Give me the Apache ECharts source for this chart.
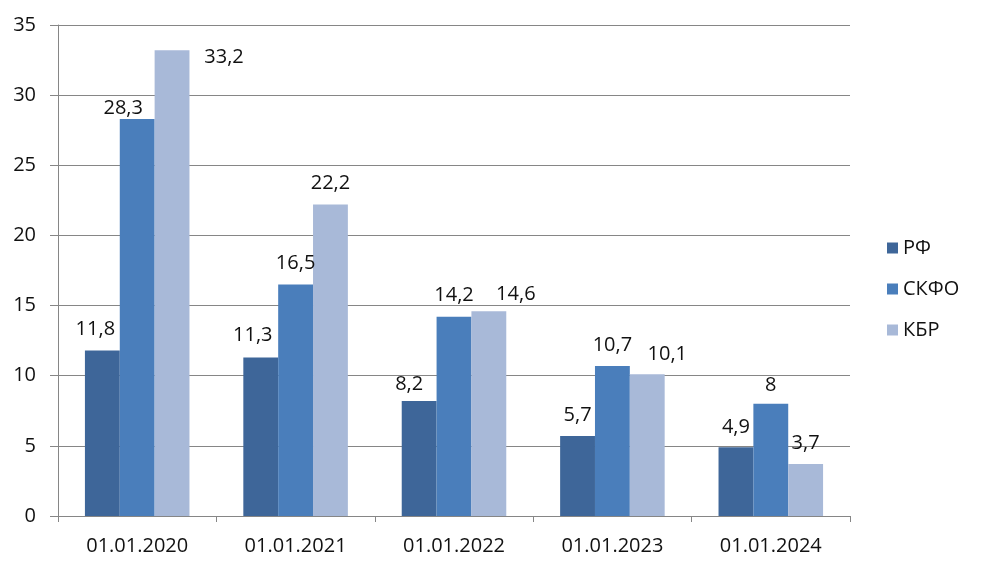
<!DOCTYPE html>
<html><head><meta charset="utf-8">
<script src="https://cdn.jsdelivr.net/npm/echarts@6/dist/echarts.min.js"></script>
<style>html,body{margin:0;padding:0;background:#fff}#c{width:983px;height:573px}</style>
</head><body><div id="c"></div>
<script>
const categories = ['01.01.2020','01.01.2021','01.01.2022','01.01.2023','01.01.2024'];
const seriesNames = ['РФ','СКФО','КБР'];
const rfValues = [11.8, 11.3, 8.2, 5.7, 4.9];
const skfoValues = [28.3, 16.5, 14.2, 10.7, 8];
const kbrValues = [33.2, 22.2, 14.6, 10.1, 3.7];
const yTicks = [0, 5, 10, 15, 20, 25, 30, 35];

// label nudges (styling only)
const nudges = [
  [[-7,0],[-8,-1],[-10,4],[0,0],[0,1]],
  [[-14,10],[0,0],[0,0],[0,0],[0,3]],
  [[52,28],[0,0],[27,4],[20,1],[0,0]]
];
const colors = ['#3e6699','#4a7ebb','#a8b9d8'];
const font = 'Open Sans';

function mk(name, vals, idx){
  return {
    name, type:'bar', barGap:'0%', barCategoryGap:'34%',
    itemStyle:{color:colors[idx]},
    data: vals.map((v,i)=>({value:v, label:{offset:nudges[idx][i]}})),
    label:{show:true, position:'top', distance:11, color:'#111', fontSize:20, fontFamily:font,
      formatter:p=>String(p.value).replace('.',',')}
  };
}
const chart = echarts.init(document.getElementById('c'), null, {renderer:'canvas'});
chart.setOption({
  animation:false,
  grid:{left:58, right:133, top:25, bottom:57, containLabel:false},
  legend:{orient:'vertical', left:882, top:233, itemWidth:11, itemHeight:11, itemGap:21,
    icon:'rect', data:seriesNames,
    textStyle:{fontSize:20, fontFamily:font, color:'#111'}},
  xAxis:{type:'category', data:categories,
    axisLine:{lineStyle:{color:'#868686', width:1}},
    axisTick:{show:true, length:6, lineStyle:{color:'#868686'}},
    axisLabel:{fontSize:20, fontFamily:font, color:'#111', margin:20}},
  yAxis:{type:'value', min:yTicks[0], max:yTicks[yTicks.length-1], interval:5,
    axisLine:{show:true, lineStyle:{color:'#868686', width:1}},
    axisTick:{show:true, length:8, lineStyle:{color:'#868686'}},
    splitLine:{show:true, lineStyle:{color:'#868686', width:1}},
    axisLabel:{fontSize:20, fontFamily:font, color:'#111', margin:22}},
  series:[mk(seriesNames[0], rfValues, 0), mk(seriesNames[1], skfoValues, 1), mk(seriesNames[2], kbrValues, 2)]
});
</script></body></html>
